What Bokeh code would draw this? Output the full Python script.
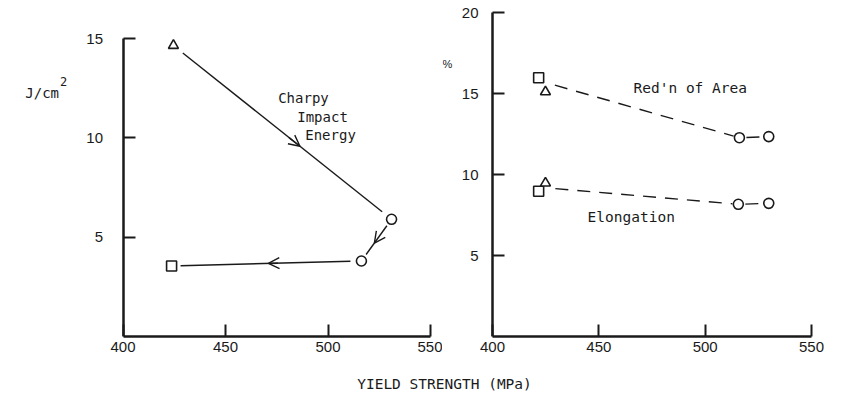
import math
from bokeh.plotting import figure
from bokeh.models import Range1d, FixedTicker, Label, Arrow, OpenHead
from bokeh.layouts import row, column
from bokeh.embed import file_html
from bokeh.resources import INLINE
from bokeh.core.properties import value

# ---------------- data ----------------
x_ticks = [400, 450, 500, 550]
left_y_ticks = [5, 10, 15]
right_y_ticks = [5, 10, 15, 20]

# Left panel: Charpy impact energy (J/cm^2), in path order
charpy_x = [424.6, 531.0, 516.3, 423.7]
charpy_y = [14.65, 5.9, 3.8, 3.55]
charpy_marker = ["triangle", "circle", "circle", "square"]

# Right panel: reduction of area (%)
red_x = [421.7, 424.9, 516.1, 529.9]
red_y = [15.97, 15.1, 12.27, 12.34]
red_marker = ["square", "triangle", "circle", "circle"]
red_line_x = [423.0, 516.1, 529.9]
red_line_y = [15.75, 12.27, 12.34]

# Right panel: elongation (%)
elong_x = [421.7, 424.9, 515.6, 529.9]
elong_y = [8.97, 9.47, 8.16, 8.22]
elong_marker = ["square", "triangle", "circle", "circle"]
elong_line_x = [423.0, 515.6, 529.9]
elong_line_y = [9.2, 8.16, 8.22]

INK = "#1a1a1a"
MONO = "DejaVu Sans Mono"
SANS = "Liberation Sans"

# ---------------- layout constants (pixels) ----------------
H_TOP = 365            # height of the two panels
FR_TOP, FR_BOT = 4, 336  # frame top / bottom (page px)
L_W = 442              # left figure width
R_W = 399              # right figure width
L_X400, L_X550 = 122.5, 430.0
R_X400, R_X550 = 492.0, 811.0 - L_W
R_X400 -= L_W
L_Y15 = 38.0
R_Y20 = 12.0

sx1 = (L_X550 - L_X400) / 150.0
sy1 = (FR_BOT - L_Y15) / 15.0
sx2 = (R_X550 - R_X400) / 150.0
sy2 = (FR_BOT - R_Y20) / 20.0


def gapped(xs, ys, sx, sy, gaps):
    x0, y0, x1, y1 = [], [], [], []
    for i in range(len(xs) - 1):
        ddx, ddy = xs[i + 1] - xs[i], ys[i + 1] - ys[i]
        L = math.hypot(ddx * sx, ddy * sy)
        a, b = gaps[i]
        x0.append(xs[i] + ddx * a / L)
        y0.append(ys[i] + ddy * a / L)
        x1.append(xs[i + 1] - ddx * b / L)
        y1.append(ys[i + 1] - ddy * b / L)
    return x0, y0, x1, y1


def style(p, yticks, ytop, standoff_y):
    p.xaxis.ticker = FixedTicker(ticks=x_ticks)
    p.yaxis.ticker = FixedTicker(ticks=yticks)
    p.xaxis.bounds = (400, 550)
    p.yaxis.bounds = (0, ytop)
    p.yaxis.fixed_location = 400
    for ax in (p.xaxis, p.yaxis):
        ax.axis_line_width = 2.5
        ax.axis_line_color = INK
        ax.major_tick_line_width = 2
        ax.major_tick_line_color = INK
        ax.major_tick_in = 12
        ax.major_tick_out = 0
        ax.minor_tick_line_color = None
        ax.major_label_text_font = SANS
        ax.major_label_text_font_size = "15px"
        ax.major_label_text_color = INK
    p.xaxis.major_label_standoff = 5
    p.yaxis.major_label_standoff = standoff_y
    p.xgrid.visible = False
    p.ygrid.visible = False
    p.outline_line_color = None


# ---------------- left panel ----------------
p1 = figure(width=L_W, height=H_TOP,
            x_range=Range1d(400 - L_X400 / sx1, 550 + (L_W - L_X550) / sx1),
            y_range=Range1d(0, (FR_BOT - FR_TOP) / sy1),
            output_backend="svg", toolbar_location=None,
            min_border_left=0, min_border_right=0,
            min_border_top=FR_TOP, min_border_bottom=H_TOP - FR_BOT)
style(p1, left_y_ticks, 15, 20)

x0, y0, x1, y1 = gapped(charpy_x, charpy_y, sx1, sy1, [(12, 12), (8, 8), (11, 9)])
p1.segment(x0, y0, x1, y1, line_color=INK, line_width=1.4)
for f, i in zip([0.58, 0.57, 0.49], range(3)):
    xa = charpy_x[i] + (charpy_x[i + 1] - charpy_x[i]) * (f - 0.05)
    ya = charpy_y[i] + (charpy_y[i + 1] - charpy_y[i]) * (f - 0.05)
    xb = charpy_x[i] + (charpy_x[i + 1] - charpy_x[i]) * f
    yb = charpy_y[i] + (charpy_y[i + 1] - charpy_y[i]) * f
    p1.add_layout(Arrow(end=OpenHead(size=11, line_width=1.4, line_color=INK),
                        x_start=xa, y_start=ya, x_end=xb, y_end=yb,
                        line_width=1.4, line_color=INK))
p1.scatter(charpy_x, charpy_y, marker=charpy_marker, size=10, fill_color="white",
           line_color=INK, line_width=1.6)

for txt, tx, ty in [("Charpy", 475.7, 12.03), ("Impact", 485.0, 11.07), ("Energy", 488.9, 10.12)]:
    p1.add_layout(Label(x=tx, y=ty, text=txt, text_font=MONO, text_font_size="14px",
                        text_color=INK, text_baseline="middle", text_align="left"))
p1.add_layout(Label(x=360.55, y=12.28, text="J/cm", text_font=MONO, text_font_size="14px",
                    text_color=INK, text_baseline="middle", text_align="center"))
p1.add_layout(Label(x=371.0, y=12.84, text="2", text_font=MONO, text_font_size="12px",
                    text_color=INK, text_baseline="middle", text_align="center"))

# ---------------- right panel ----------------
p2 = figure(width=R_W, height=H_TOP,
            x_range=Range1d(400 - R_X400 / sx2, 550 + (R_W - R_X550) / sx2),
            y_range=Range1d(0, (FR_BOT - FR_TOP) / sy2),
            output_backend="svg", toolbar_location=None,
            min_border_left=0, min_border_right=0,
            min_border_top=FR_TOP, min_border_bottom=H_TOP - FR_BOT)
style(p2, right_y_ticks, 20, 14)

x0, y0, x1, y1 = gapped(red_line_x, red_line_y, sx2, sy2, [(14, 6), (7, 7)])
p2.segment(x0, y0, x1, y1, line_color=INK, line_width=1.4, line_dash="13 9")
x0, y0, x1, y1 = gapped(elong_line_x, elong_line_y, sx2, sy2, [(14, 6), (7, 7)])
p2.segment(x0, y0, x1, y1, line_color=INK, line_width=1.4, line_dash="13 9")
p2.scatter(red_x, red_y, marker=red_marker, size=10, fill_color="white",
           line_color=INK, line_width=1.6)
p2.scatter(elong_x, elong_y, marker=elong_marker, size=10, fill_color="white",
           line_color=INK, line_width=1.6)

p2.add_layout(Label(x=466.3, y=15.31, text="Red'n of Area", text_font=MONO, text_font_size="14.5px",
                    text_color=INK, text_baseline="middle", text_align="left"))
p2.add_layout(Label(x=444.7, y=7.35, text="Elongation", text_font=MONO, text_font_size="14.5px",
                    text_color=INK, text_baseline="middle", text_align="left"))
p2.add_layout(Label(x=378.8, y=16.85, text="%", text_font=SANS, text_font_size="11px",
                    text_color=INK, text_baseline="middle", text_align="center"))

# ---------------- shared x label ----------------
p3 = figure(width=L_W + R_W, height=393 - H_TOP,
            x_range=Range1d(0, L_W + R_W), y_range=Range1d(0, 393 - H_TOP),
            output_backend="svg", toolbar_location=None, min_border=0)
p3.axis.visible = False
p3.xgrid.visible = False
p3.ygrid.visible = False
p3.outline_line_color = None
p3.text(x=[444], y=[10], text=["YIELD STRENGTH (MPa)"], text_font=value(MONO),
        text_font_size="14.5px", text_color=INK, text_align="center", text_baseline="middle")

layout = column(row(p1, p2, spacing=0), p3, spacing=0)
open("out.html", "w").write(file_html(layout, INLINE))
